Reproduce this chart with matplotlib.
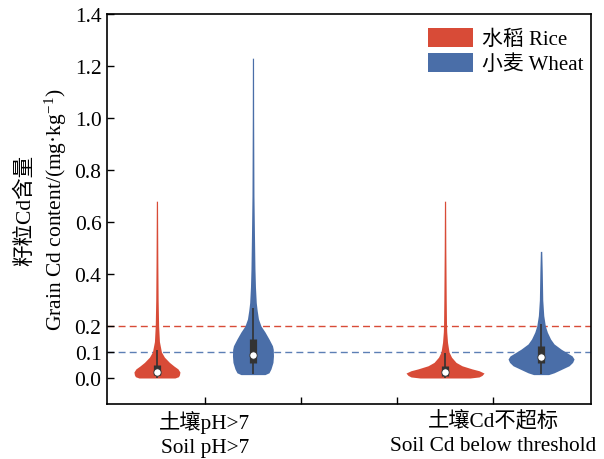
import matplotlib
matplotlib.use("Agg")
import matplotlib.pyplot as plt
from matplotlib.patches import Patch

plt.rcParams['font.family'] = ['Liberation Serif', 'Noto Sans CJK SC']
plt.rcParams['mathtext.fontset'] = 'custom'
plt.rcParams['mathtext.rm'] = 'Liberation Serif'
plt.rcParams['mathtext.it'] = 'Liberation Serif:italic'

# ---------------- data ----------------
group_labels = ["土壤pH>7\nSoil pH>7", "", "", "土壤Cd不超标\nSoil Cd below threshold"]
series_names = ["水稻 Rice", "小麦 Wheat"]
rice_color = "#D84B37"
wheat_color = "#4A6EA8"

# violin density profiles: grain Cd value (mg/kg) and half-width (pixels)
rice_ph_v = [0.0, 0.005, 0.012, 0.023, 0.035, 0.046, 0.06, 0.08, 0.1, 0.14, 0.2, 0.3, 0.45, 0.6, 0.68]
rice_ph_w = [18, 21.5, 22.5, 23, 21, 17, 12.5, 7.5, 4.5, 2.5, 1.7, 1.2, 0.9, 0.7, 0.6]

wheat_ph_v = [0.013, 0.02, 0.035, 0.06, 0.085, 0.11, 0.124, 0.15, 0.177, 0.2, 0.227, 0.26, 0.29, 0.35, 0.42, 0.55, 0.7, 1.0, 1.23]
wheat_ph_w = [12, 16, 18, 20, 20.5, 20.3, 19.5, 16, 12, 8, 5.5, 4.2, 3.3, 2.5, 2, 1.5, 1.0, 0.7, 0.6]

rice_cd_v = [0.0, 0.004, 0.01, 0.019, 0.028, 0.035, 0.047, 0.06, 0.08, 0.1, 0.137, 0.177, 0.2, 0.3, 0.5, 0.68]
rice_cd_w = [25, 34, 37, 39, 34, 27, 17, 11, 6.5, 4, 2.5, 1.7, 1.5, 1.2, 0.8, 0.6]

wheat_cd_v = [0.013, 0.02, 0.028, 0.047, 0.06, 0.073, 0.085, 0.092, 0.111, 0.131, 0.15, 0.176, 0.2, 0.24, 0.3, 0.41, 0.487]
wheat_cd_w = [7.5, 13, 17.5, 28, 31.5, 33, 31, 28, 20, 13, 9.5, 6.3, 4.3, 2.7, 1.7, 1.2, 0.7]

# box stats: whisker low, q1, median, q3, whisker high
rice_ph_box = [0.0, 0.012, 0.024, 0.05, 0.109]
wheat_ph_box = [0.015, 0.058, 0.088, 0.15, 0.27]
rice_cd_box = [0.0, 0.006, 0.024, 0.047, 0.096]
wheat_cd_box = [0.015, 0.056, 0.08, 0.122, 0.208]

rice_limit = 0.2
wheat_limit = 0.1

# ---------------- plot ----------------
fig = plt.figure(figsize=(6.04, 4.6), dpi=100)
ax = fig.add_axes([107/604, 55/460, (591-107)/604, (405-15)/460])

tick_pos = [0, 1, 2, 3]
violins = [
    (-0.5, rice_ph_v, rice_ph_w, rice_ph_box, rice_color),
    (0.5, wheat_ph_v, wheat_ph_w, wheat_ph_box, wheat_color),
    (2.5, rice_cd_v, rice_cd_w, rice_cd_box, rice_color),
    (3.5, wheat_cd_v, wheat_cd_w, wheat_cd_box, wheat_color),
]
px_per_unit = 96.0

ax.axhline(rice_limit, color=rice_color, lw=1.0, ls=(0, (5, 3)), zorder=1)
ax.axhline(wheat_limit, color="#5C7FB5", lw=1.0, ls=(0, (5, 3)), zorder=1)

for x, vals, widths, box, col in violins:
    hw = [w / px_per_unit for w in widths]
    left = [x - h for h in hw]
    right = [x + h for h in hw]
    ax.fill_betweenx(vals, left, right, color=col, lw=0, zorder=2)
    wlo, q1, med, q3, whi = box
    ax.plot([x, x], [wlo, whi], color="#333333", lw=1.2, solid_capstyle="butt", zorder=3)
    ax.plot([x, x], [q1, q3], color="#333333", lw=5.2, solid_capstyle="butt", zorder=4)
    ax.scatter([x], [med], s=28, color="white", edgecolor="#333333", linewidth=0.6, zorder=5)

ax.set_xlim(-1.02, 4.02)
ax.set_ylim(-0.1, 1.4)
ax.set_xticks(tick_pos)
ax.set_xticklabels(group_labels, fontsize=15.3, linespacing=1.4)
yt = [0.0, 0.1, 0.2, 0.4, 0.6, 0.8, 1.0, 1.2, 1.4]
ax.set_yticks(yt)
ax.set_yticklabels([f"{v:.1f}" for v in yt], fontsize=15.5)
ax.tick_params(direction="in", length=5, width=1.0, pad=4)
for s in ax.spines.values():
    s.set_linewidth(1.2)

ax.set_ylabel("籽粒Cd含量\nGrain Cd content/(mg·kg$^{-1}$)", fontsize=15.5, linespacing=1.4, labelpad=4)

handles = [Patch(facecolor=rice_color, edgecolor="none"), Patch(facecolor=wheat_color, edgecolor="none")]
ax.legend(handles, series_names, loc="upper right", bbox_to_anchor=(0.985, 0.965), frameon=False,
          fontsize=15, handlelength=2.15, handleheight=1.05, handletextpad=0.45, labelspacing=0.15,
          borderpad=0, borderaxespad=0)

fig.savefig("out.png", dpi=100)
